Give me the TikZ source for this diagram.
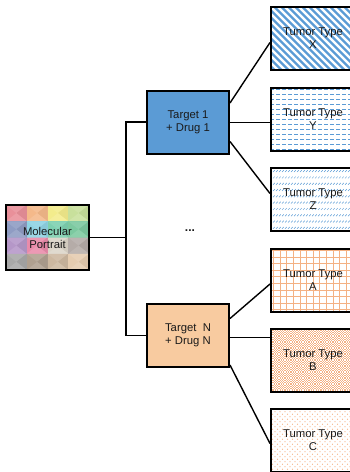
\documentclass[tikz,border=0pt]{standalone}
\usepackage{fontspec}
\setmainfont{Liberation Sans}
\usetikzlibrary{calc}

\definecolor{drugblue}{HTML}{5B9BD5}
\definecolor{drugpeach}{HTML}{F8CBA0}
\definecolor{lineorange}{HTML}{F4B183}
\definecolor{txt}{HTML}{1A1A1A}

% clip a hand-drawn fill to a tumour box centred at (#1,#2)
\newcommand{\boxfill}[3]{%
  \begin{scope}
    \clip (#1-42,#2-31.5) rectangle (#1+42,#2+31.5);
    \begin{scope}[shift={(#1,#2)}]#3\end{scope}
  \end{scope}}

\begin{document}
\begin{tikzpicture}[x=1pt,y=-1pt,
  every node/.style={font=\fontsize{11.3}{13}\selectfont, text=txt, align=center},
  box/.style={draw=black, line width=2pt, inner sep=0pt,
    minimum width=82pt, minimum height=63pt},
  tumor/.style={box, minimum width=84pt},
  link/.style={draw=black, line width=1.4pt}]

\useasboundingbox (0,0) rectangle (350,472);

% molecular portrait: 4x4 cells, each split into four triangles
\def\cw{20.75}\def\ch{16.25}
\foreach \r/\colrow in {0/{E9909A,F4B98A,F3EC8C,C8E09C},
                        1/{8F9CC3,8FD3E3,7DD0B0,7CC9A0},
                        2/{B597C8,E98BAA,DCD5C8,B5ACA8},
                        3/{A8A8A8,B0A090,CDB8A0,E5CCB0}}{
  \foreach \cc [count=\c from 0] in \colrow {
    \definecolor{cellc}{HTML}{\cc}
    \pgfmathsetmacro{\xa}{6+\c*\cw}\pgfmathsetmacro{\xb}{\xa+\cw}
    \pgfmathsetmacro{\ya}{205+\r*\ch}\pgfmathsetmacro{\yb}{\ya+\ch}
    \pgfmathsetmacro{\xm}{\xa+\cw/2}\pgfmathsetmacro{\ym}{\ya+\ch/2}
    \fill[cellc] (\xa,\ya) rectangle (\xb,\yb);
    \fill[cellc!90!white] (\xa,\ya) -- (\xb,\ya) -- (\xm,\ym) -- cycle;
    \fill[cellc!95!black] (\xb,\ya) -- (\xb,\yb) -- (\xm,\ym) -- cycle;
    \fill[cellc!88!white] (\xa,\yb) -- (\xb,\yb) -- (\xm,\ym) -- cycle;
  }
}

% fills of the tumour boxes
\boxfill{313}{38.5}{%
  \foreach \k in {-126,-119,...,126}
    \draw[drugblue, line width=2.3pt] (\k-40,-40) -- (\k+40,40);}
\boxfill{313}{119}{%
  \foreach \yy in {-30,-25,...,30}
    \draw[drugblue, line width=0.7pt, dash pattern=on 3.8pt off 2.2pt] (-43,\yy) -- (43,\yy);}
\boxfill{313}{199.5}{%
  \foreach \yy in {-28.35,-22.05,...,30}
    \foreach \xx in {-43,-40,...,43}
      \draw[drugblue, line width=0.5pt] (\xx,\yy+0.9) -- (\xx+1.8,\yy-0.9);}
\boxfill{313}{280}{%
  \foreach \k in {-39.6,-33,...,40}
    \draw[lineorange, line width=0.6pt] (\k,-33) -- (\k,33);
  \foreach \k in {-29.7,-23.1,...,33}
    \draw[lineorange, line width=0.6pt] (-43,\k) -- (43,\k);}
\boxfill{313}{360.5}{%
  \foreach \yy [count=\i] in {-31.8,-30.6,...,33}
    \draw[lineorange, line width=1.2pt, dash pattern=on 1.2pt off 1.2pt,
          dash phase={mod(\i,2)*1.2pt}] (-43,\yy) -- (43,\yy);}
\boxfill{313}{440.5}{%
  \foreach \yy [count=\i] in {-31.25,-28.75,...,33}
    \draw[lineorange, line width=1.1pt, line cap=round, dash pattern=on 0pt off 5pt,
          dash phase={mod(\i,2)*2.5pt}] (-43,\yy) -- (43,\yy);}

\node[box, minimum width=83pt, minimum height=65pt] (mp) at (47.5,237.5) {Molecular\\Portrait};

% drug nodes
\node[box, fill=drugblue] (t1) at (188,122) {Target 1\\+ Drug 1};
\node[box, fill=drugpeach] (tn) at (188,335.5) {Target\ \ N\\+ Drug N};
\node[font=\bfseries\fontsize{12}{13}\selectfont] (dots) at (190,231) {...};

% tumour types
\node[tumor] (tx) at (313,38.5) {Tumor Type\\X};
\node[tumor] (ty) at (313,119) {Tumor Type\\Y};
\node[tumor] (tz) at (313,199.5) {Tumor Type\\Z};
\node[tumor] (ta) at (313,280) {Tumor Type\\A};
\node[tumor] (tb) at (313,360.5) {Tumor Type\\B};
\node[tumor] (tc) at (313,440.5) {Tumor Type\\C};

% tree connectors
\coordinate (bus) at (126,237.5);
\draw[link] (mp.east) -- (bus);
\draw[link] (t1.west) -| (bus) |- (tn.west);

\draw[link] ([yshift=19pt]t1.east) -- ([yshift=-4pt]tx.west);
\draw[link] ([yshift=-0.7pt]t1.east) -- ([yshift=-0.7pt]t1.east -| ty.west);
\draw[link] ([yshift=-19.5pt]t1.east) -- ([yshift=6pt]tz.west);

\draw[link] ([yshift=17pt]tn.east) -- ([yshift=-4pt]ta.west);
\draw[link] ([yshift=-2pt]tn.east) -- ([yshift=-2pt]tn.east -| tb.west);
\draw[link] ([yshift=-29.5pt]tn.east) -- ([yshift=-3pt]tc.west);
\end{tikzpicture}
\end{document}
